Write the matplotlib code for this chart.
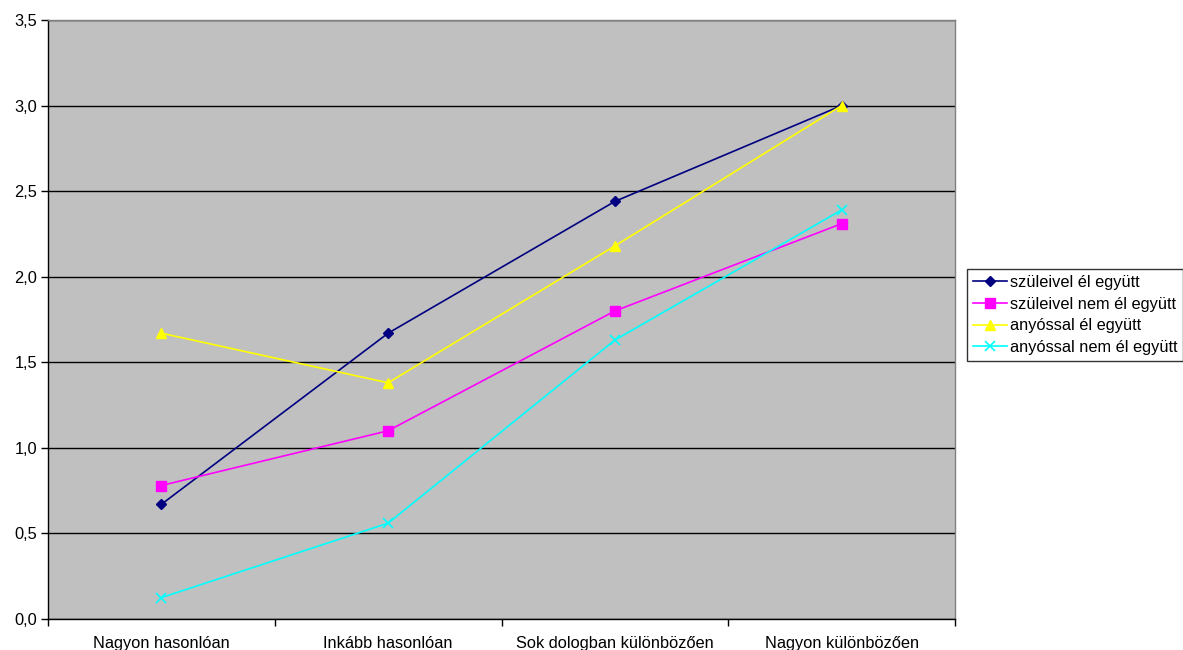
import matplotlib
matplotlib.use("Agg")
import matplotlib.pyplot as plt
import numpy as np

plt.rcParams['font.family'] = ['Liberation Sans', 'DejaVu Sans']

categories = ["Nagyon hasonlóan", "Inkább hasonlóan", "Sok dologban különbözően", "Nagyon különbözően"]
szul_el = [0.67, 1.67, 2.44, 3.0]
szul_nem = [0.78, 1.10, 1.80, 2.31]
any_el = [1.67, 1.38, 2.18, 3.0]
any_nem = [0.125, 0.56, 1.63, 2.39]
series_names = ["szüleivel él együtt", "szüleivel nem él együtt", "anyóssal él együtt", "anyóssal nem él együtt"]
yticks = [0.0, 0.5, 1.0, 1.5, 2.0, 2.5, 3.0, 3.5]
ytick_labels = ["0,0", "0,5", "1,0", "1,5", "2,0", "2,5", "3,0", "3,5"]

FS = 11.8
fig = plt.figure(figsize=(11.83, 6.5), dpi=100)
ax = fig.add_axes([48/1183, 1-619/650, (955-48)/1183, (619-20)/650])
ax.set_facecolor('#C0C0C0')

x = np.arange(len(categories))
styles = [
    dict(color='#000080', marker='D', markersize=5),
    dict(color='#FF00FF', marker='s', markersize=7),
    dict(color='#FFFF00', marker='^', markersize=7),
    dict(color='#00FFFF', marker='x', markersize=7, markeredgewidth=1.2),
]
for vals, name, st in zip([szul_el, szul_nem, any_el, any_nem], series_names, styles):
    ax.plot(x, vals, linewidth=1.2, label=name, **st)

ax.set_xlim(-0.5, 3.5)
ax.set_ylim(0, 3.5)
ax.set_yticks(yticks)
ax.set_yticklabels(ytick_labels, fontsize=FS)
ax.set_xticks(x)
ax.set_xticklabels(categories, fontsize=FS)
ax.set_xticks(np.arange(-0.5, 4.0, 1.0), minor=True)
ax.tick_params(axis='x', which='major', length=0, pad=12)
ax.tick_params(axis='x', which='minor', length=5, direction='out', width=1)
ax.tick_params(axis='y', length=5, direction='out', width=1, pad=3)

ax.yaxis.grid(True, color='black', linewidth=1)
ax.set_axisbelow(True)
for s in ['top', 'right']:
    ax.spines[s].set_color('#808080')
    ax.spines[s].set_linewidth(1)
for s in ['left', 'bottom']:
    ax.spines[s].set_color('black')
    ax.spines[s].set_linewidth(1)

leg = fig.legend(loc='center left', bbox_to_anchor=(967/1183, 1-315/650), fontsize=FS,
                 frameon=True, fancybox=False, edgecolor='black', borderpad=0.35,
                 handlelength=2.1, handletextpad=0.15, labelspacing=0.4, borderaxespad=0)
leg.get_frame().set_linewidth(1)

fig.savefig("out.png", dpi=100)
